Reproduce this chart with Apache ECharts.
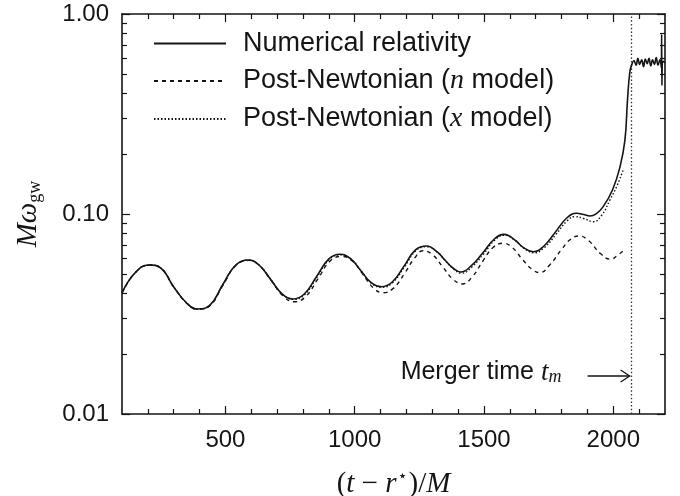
<!DOCTYPE html>
<html>
<head>
<meta charset="utf-8">
<script src="https://cdn.jsdelivr.net/npm/echarts/dist/echarts.min.js"></script>
<style>html,body{margin:0;padding:0;background:#fff}#c{width:680px;height:496px}</style>
</head>
<body>
<div id="c"></div>
<script>
// ---- data ----
const nrT = [100,150,205,250,300,350,391,440,490,540,588,630,675,720,762,805,852,900,943,985,1023,1065,1104,1145,1190,1235,1278,1320,1345,1380,1411,1450,1495,1540,1578,1620,1650,1690,1730,1775,1820,1858,1885,1910,1935,1961,1997,2026,2045,2055,2064,2072,2080,2088,2095,2102,2110,2117,2124,2131,2138,2145,2152,2159,2166,2173,2180,2186,2187,2188,2193,2200];
const nrV = [0.0403,0.0507,0.0556,0.0537,0.0432,0.0359,0.0335,0.0350,0.0444,0.0556,0.0589,0.0556,0.0470,0.0398,0.0376,0.0398,0.0486,0.0596,0.0629,0.0596,0.0522,0.0452,0.0433,0.0457,0.0547,0.0662,0.0692,0.0645,0.0596,0.0537,0.0513,0.0550,0.0638,0.0750,0.0791,0.0740,0.0683,0.0648,0.0688,0.0808,0.0955,0.1008,0.0995,0.0977,0.1005,0.1088,0.1318,0.172,0.234,0.372,0.513,0.560,0.585,0.555,0.600,0.560,0.590,0.545,0.595,0.565,0.600,0.550,0.590,0.560,0.605,0.555,0.590,0.540,0.790,0.440,0.580,0.570];

const pnNT = [100,150,205,250,300,350,393,440,490,540,590,633,678,723,767,810,857,905,950,992,1030,1072,1110,1150,1195,1230,1264,1300,1340,1380,1417,1455,1495,1535,1574,1610,1650,1685,1716,1755,1800,1835,1868,1905,1950,1991,2015,2039];
const pnNV = [0.0403,0.0507,0.0556,0.0537,0.0432,0.0358,0.0334,0.0348,0.0440,0.0552,0.0586,0.0550,0.0463,0.0389,0.0364,0.0386,0.0472,0.0582,0.0614,0.0580,0.0503,0.0427,0.0404,0.0426,0.0510,0.0598,0.0655,0.0628,0.0545,0.0472,0.0447,0.0486,0.0580,0.0680,0.0714,0.0678,0.0590,0.0530,0.0509,0.0558,0.0665,0.0748,0.0776,0.0735,0.0634,0.0594,0.0620,0.0655];

const pnXT = [100,150,205,250,300,350,391,440,490,540,589,631,677,722,764,807,854,902,945,987,1025,1067,1106,1147,1192,1237,1280,1322,1347,1382,1414,1453,1498,1542,1580,1622,1652,1694,1734,1778,1822,1852,1885,1923,1955,1987,2013,2039];
const pnXV = [0.0403,0.0507,0.0556,0.0537,0.0432,0.0359,0.0335,0.0350,0.0443,0.0554,0.0588,0.0554,0.0468,0.0396,0.0374,0.0396,0.0484,0.0593,0.0626,0.0593,0.0519,0.0448,0.0430,0.0454,0.0543,0.0656,0.0686,0.0640,0.0591,0.0532,0.0506,0.0543,0.0630,0.0742,0.0783,0.0735,0.0678,0.0640,0.0680,0.0790,0.0925,0.0970,0.0950,0.0915,0.0985,0.1175,0.1370,0.1670];

const mergerT = 2071;
const xMajor = [500,1000,1500,2000];
const xMinor = [200,300,400,600,700,800,900,1100,1200,1300,1400,1600,1700,1800,1900,2100];
const yMajor = [0.01,0.1,1];
const yMinor = [0.02,0.03,0.04,0.05,0.06,0.07,0.08,0.09,0.2,0.3,0.4,0.5,0.6,0.7,0.8,0.9];
const names = ['Numerical relativity','Post-Newtonian (n model)','Post-Newtonian (x model)'];

// ---- chart ----
const INK = '#151515';
const SANS = "'Liberation Sans', Arial, Helvetica, sans-serif";
const SERIF = "'Liberation Serif', 'DejaVu Serif', serif";
const pair = (ts, vs) => ts.map((t, i) => [t, vs[i]]);

function xAx(pos, ticks, len, showLine, labels, extra) {
  return Object.assign({
    type: 'value', min: 100, max: 2200, position: pos,
    axisLine: {show: showLine, onZero: false, lineStyle: {color: INK, width: 1.6}},
    axisTick: {show: true, inside: true, length: len, customValues: ticks, lineStyle: {color: INK, width: 1.2}},
    axisLabel: labels ? {show: true, customValues: xMajor, fontSize: 24, margin: 14, color: INK, fontFamily: SANS,
      formatter: v => String(Math.round(v))} : {show: false},
    splitLine: {show: false}
  }, extra || {});
}
function yAx(pos, ticks, len, showLine, labels, extra) {
  return Object.assign({
    type: 'log', logBase: 10, min: 0.01, max: 1, position: pos,
    axisLine: {show: showLine, onZero: false, lineStyle: {color: INK, width: 1.6}},
    axisTick: {show: true, inside: true, length: len, customValues: ticks, lineStyle: {color: INK, width: 1.2}},
    axisLabel: labels ? {show: true, customValues: yMajor, fontSize: 24, margin: 13, color: INK, fontFamily: SANS,
      formatter: v => Number(v).toFixed(2)} : {show: false},
    splitLine: {show: false}
  }, extra || {});
}

const chart = echarts.init(document.getElementById('c'), null, {renderer: 'canvas'});
const option = {
  animation: false,
  backgroundColor: '#fff',
  grid: {left: 122, right: 15, top: 14, bottom: 82, containLabel: false, outerBoundsMode: 'none'},
  xAxis: [
    xAx('bottom', xMajor, 8, true, true, {
      name: '{p|(}{i|t}{p| − }{i|r}{sup|⋆}{p|)/}{i|M}', nameLocation: 'middle', nameGap: 55,
      nameTextStyle: {color: INK, rich: {
        p: {fontFamily: SERIF, fontSize: 29, color: INK},
        i: {fontFamily: SERIF, fontStyle: 'italic', fontSize: 29, color: INK},
        sup: {fontFamily: "'DejaVu Sans', sans-serif", fontSize: 16, color: INK, verticalAlign: 'top', padding: [0, 1, 14, 1]}
      }}
    }),
    xAx('bottom', xMinor, 5, false, false),
    xAx('top', xMajor, 8, true, false),
    xAx('top', xMinor, 5, false, false)
  ],
  yAxis: [
    yAx('left', yMajor, 8, true, true, {
      name: '{m|Mω}{s|gw}', nameLocation: 'middle', nameGap: 78, nameRotate: 90,
      nameTextStyle: {color: INK, rich: {
        m: {fontFamily: SERIF, fontStyle: 'italic', fontSize: 29, color: INK},
        s: {fontFamily: SERIF, fontSize: 18, color: INK, verticalAlign: 'bottom', padding: [14, 0, 0, 0]}
      }}
    }),
    yAx('left', yMinor, 5, false, false),
    yAx('right', yMajor, 8, true, false),
    yAx('right', yMinor, 5, false, false)
  ],
  legend: {
    orient: 'vertical', left: 153, top: 30, padding: 0, itemWidth: 72, itemHeight: 14, itemGap: 10,
    data: names,
    itemStyle: {opacity: 0},
    textStyle: {fontFamily: SANS, fontSize: 27, color: INK, padding: [0, 0, 0, 12],
      rich: {
        a: {fontFamily: SANS, fontSize: 27, color: INK},
        i: {fontFamily: SERIF, fontStyle: 'italic', fontSize: 28, color: INK}
      }},
    formatter: function (n) {
      const m = n.match(/^(.*\()(\w)( model\))$/);
      if (!m) return '{a|' + n + '}';
      return '{a|' + m[1] + '}{i|' + m[2] + '}{a|' + m[3] + '}';
    }
  },
  series: [
    {
      name: names[0], type: 'line', data: pair(nrT, nrV), xAxisIndex: 0, yAxisIndex: 0,
      symbol: 'none', smooth: 0.45, z: 5,
      lineStyle: {color: INK, width: 1.6, type: 'solid'}, itemStyle: {color: INK},
      markLine: {silent: true, symbol: 'none', animation: false, label: {show: false},
        lineStyle: {color: '#333', width: 1.3, type: [1.5, 2.2]},
        data: [{xAxis: mergerT}]}
    },
    {
      name: names[1], type: 'line', data: pair(pnNT, pnNV), xAxisIndex: 0, yAxisIndex: 0,
      symbol: 'none', smooth: 0.45,
      lineStyle: {color: INK, width: 1.4, type: [4, 4]}, itemStyle: {color: INK}
    },
    {
      name: names[2], type: 'line', data: pair(pnXT, pnXV), xAxisIndex: 0, yAxisIndex: 0,
      symbol: 'none', smooth: 0.45,
      lineStyle: {color: INK, width: 1.4, type: [1.5, 2]}, itemStyle: {color: INK}
    }
  ]
};
chart.setOption(option);

// annotation: "Merger time t_m ->" pointing at the merger line
const mx = chart.convertToPixel({xAxisIndex: 0}, mergerT);
const ay = 376;
chart.setOption({
  graphic: [
    {type: 'text', left: mx - 231, top: ay - 17, silent: true,
      style: {text: '{a|Merger time }{t|t}{s|m}', fill: INK,
        rich: {
          a: {fontFamily: SANS, fontSize: 25, fill: INK},
          t: {fontFamily: SERIF, fontStyle: 'italic', fontSize: 27, fill: INK},
          s: {fontFamily: SERIF, fontStyle: 'italic', fontSize: 18, fill: INK, verticalAlign: 'bottom', padding: [8, 0, 0, 0]}
        }}},
    {type: 'line', silent: true, shape: {x1: mx - 44, y1: ay, x2: mx - 2, y2: ay}, style: {stroke: INK, lineWidth: 1.3}},
    {type: 'polyline', silent: true, shape: {points: [[mx - 11, ay - 6], [mx - 2, ay], [mx - 11, ay + 6]]}, style: {stroke: INK, lineWidth: 1.3, fill: null}}
  ]
});
</script>
</body>
</html>
